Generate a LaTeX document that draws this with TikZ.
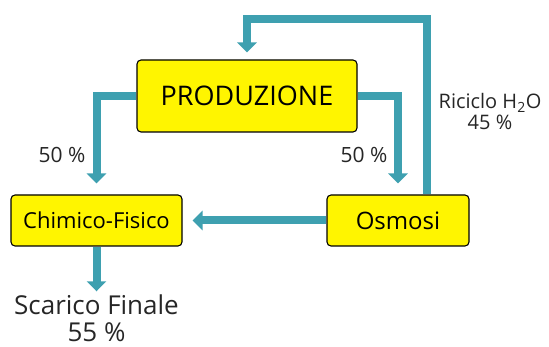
\documentclass[tikz,border=0pt]{standalone}
\usepackage{fontspec}
\setmainfont{Open Sans}
\usetikzlibrary{arrows.meta}
\definecolor{boxyellow}{RGB}{255,245,0}
\definecolor{flow}{RGB}{62,160,176}
\tikzset{
  procbox/.style={draw=black, line width=1.1pt, fill=boxyellow, rounded corners=4pt, inner sep=0pt},
  flowline/.style={draw=flow, line width=8pt, line join=miter,
    -{Triangle[width=19pt,length=10pt]}},
  lbl/.style={inner sep=0pt, align=center, text=black!85}
}
\begin{document}
\begin{tikzpicture}[x=1pt,y=-1pt]
\useasboundingbox (0,0) rectangle (549,347);
\node[procbox, minimum width=220pt, minimum height=72pt, font=\fontsize{27}{30}\selectfont] (prod) at (247,96) {PRODUZIONE};
\node[procbox, minimum width=171pt, minimum height=51pt, font=\fontsize{22}{24}\selectfont] (chim) at (96.5,220.5) {Chimico-Fisico};
\node[procbox, minimum width=142pt, minimum height=51pt, font=\fontsize{24}{26}\selectfont] (osm) at (398,220.5) {Osmosi};
\node[lbl, font=\fontsize{26}{27}\selectfont] (scar) at (96.5,318) {Scarico Finale\\55 \%};
\node[lbl, font=\fontsize{21}{22}\selectfont] (l1) at (62,155) {50 \%};
\node[lbl, font=\fontsize{21}{22}\selectfont] (l2) at (364,155) {50 \%};
\node[lbl, font=\fontsize{20}{21}\selectfont] (ric) at (490,112) {Riciclo H\textsubscript{2}O\\45 \%};
\draw[flowline, shorten >=11pt] (prod.west) -| (chim.north);
\draw[flowline, shorten >=11pt] (prod.east) -| (osm.north);
\draw[flowline, shorten >=7pt] ([xshift=29pt]osm.north) |- ([yshift=40pt]prod.north) -- (prod.north);
\draw[flowline, shorten >=10pt] (osm.west) -- (chim.east);
\draw[flowline, shorten >=3pt] (chim.south) -- (chim.south |- scar.north);
\end{tikzpicture}
\end{document}
